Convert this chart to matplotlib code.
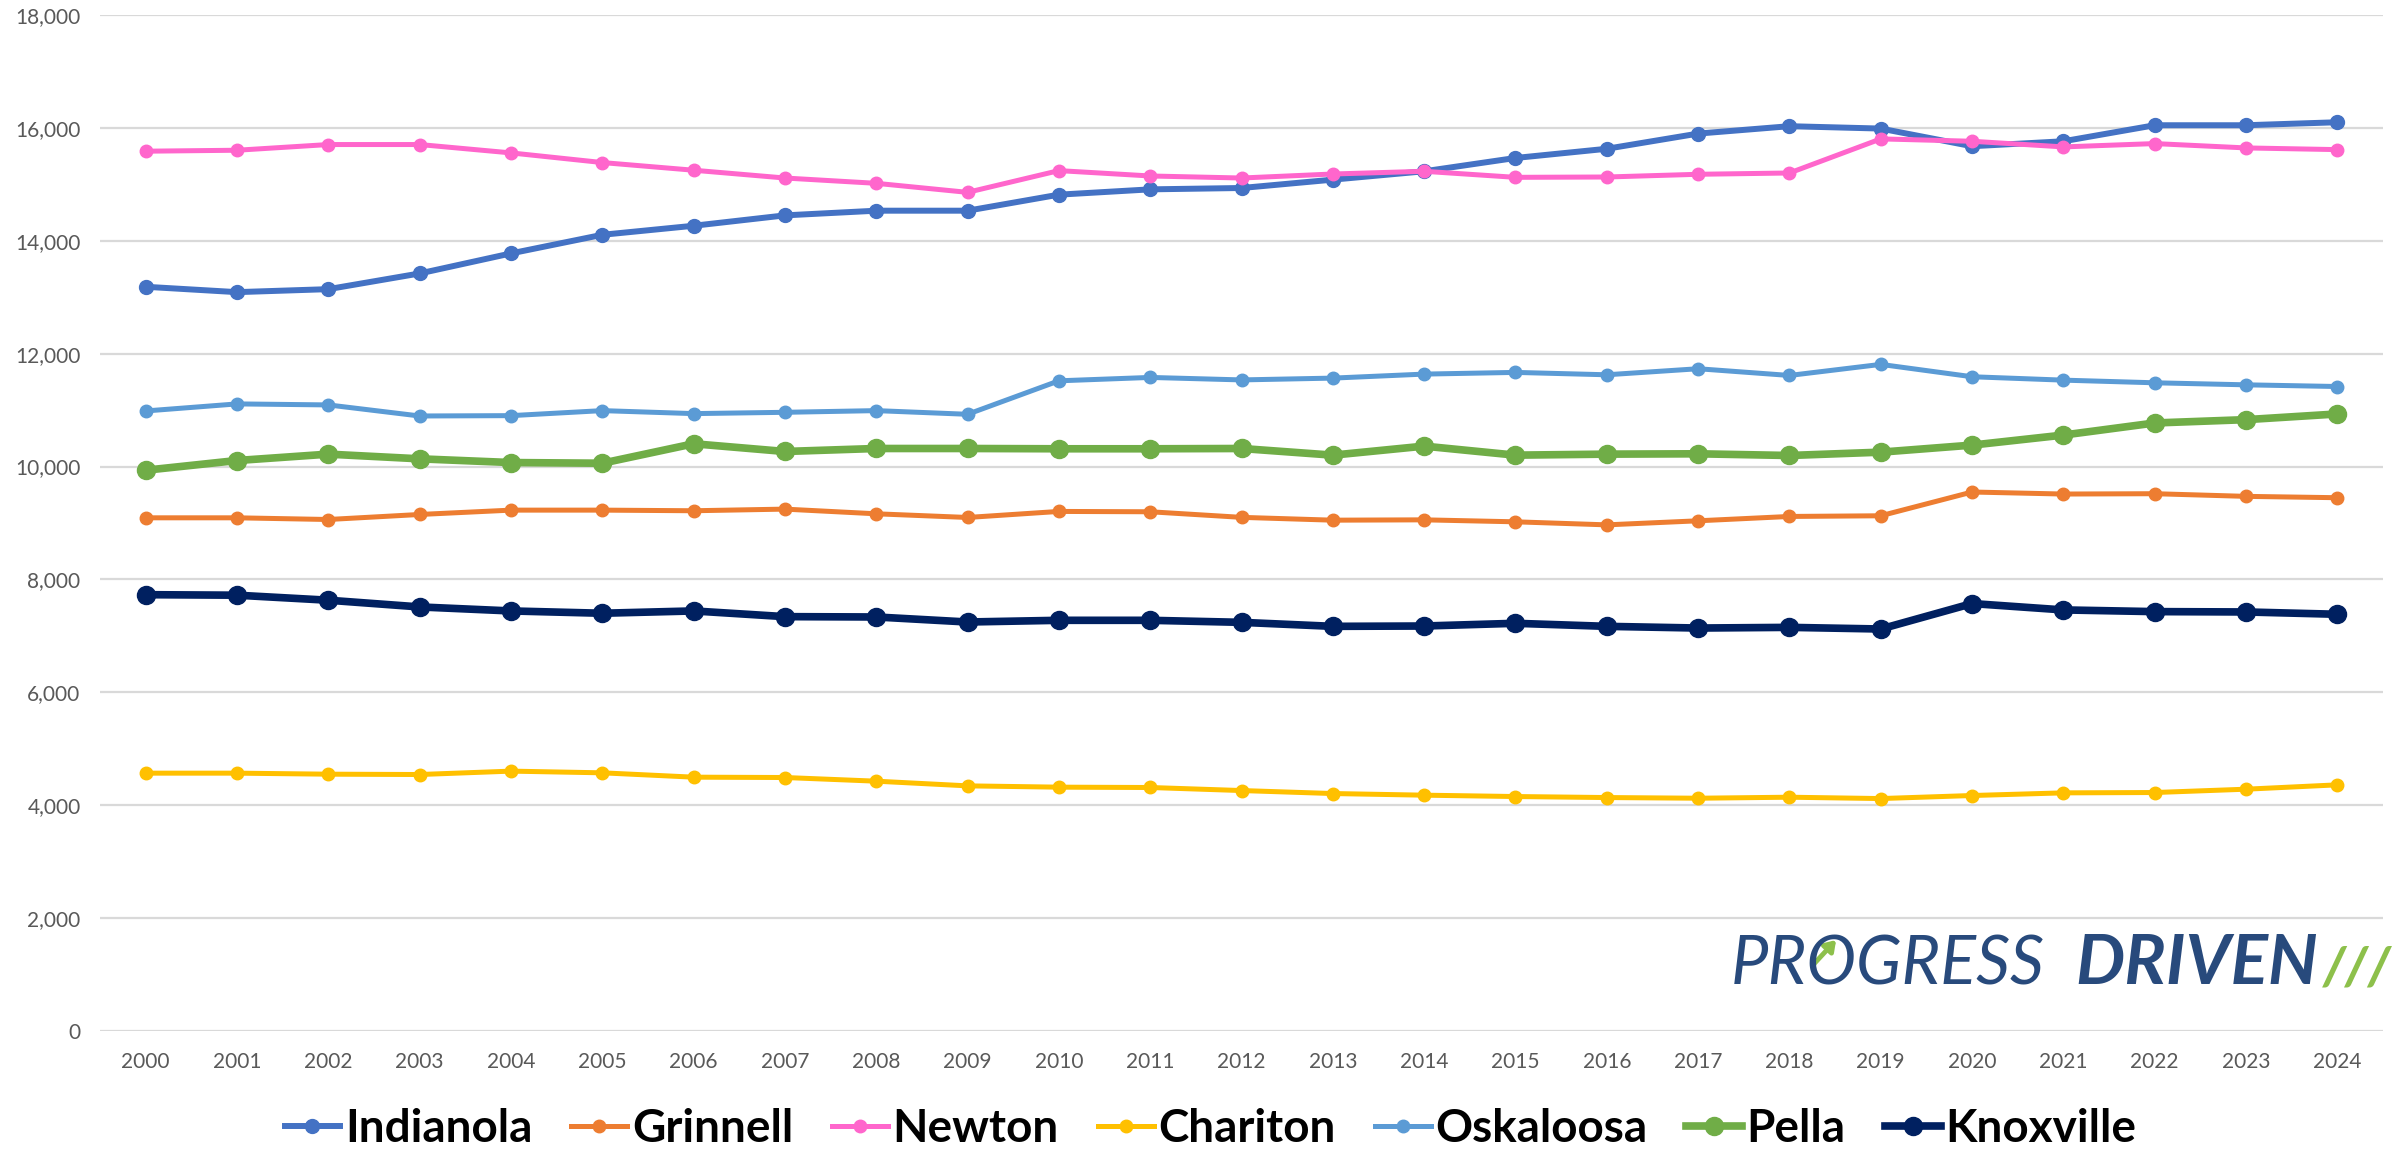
import matplotlib
matplotlib.use("Agg")
import matplotlib.pyplot as plt
from matplotlib.patches import FancyArrowPatch
from matplotlib.ticker import FuncFormatter, MultipleLocator

years = [str(y) for y in range(2000, 2025)]

indianola = [13185, 13090, 13143, 13421, 13776, 14106, 14266, 14450, 14533, 14533, 14817, 14911, 14935,
             15083, 15231, 15467, 15630, 15899, 16030, 15988, 15675, 15763, 16047, 16047, 16100]
grinnell = [9092, 9092, 9062, 9151, 9228, 9228, 9217, 9246, 9163, 9098, 9205, 9199, 9100,
            9050, 9056, 9021, 8967, 9039, 9116, 9128, 9549, 9513, 9519, 9472, 9448]
newton = [15587, 15604, 15705, 15705, 15557, 15386, 15250, 15112, 15018, 14858, 15243, 15148, 15112,
          15183, 15231, 15124, 15130, 15178, 15201, 15805, 15763, 15663, 15722, 15645, 15615]
chariton = [4568, 4568, 4550, 4544, 4604, 4574, 4497, 4491, 4426, 4343, 4320, 4314, 4260,
            4207, 4178, 4154, 4136, 4124, 4142, 4118, 4172, 4219, 4225, 4284, 4361]
oskaloosa = [10985, 11110, 11092, 10896, 10902, 10991, 10938, 10961, 10991, 10926, 11519, 11579, 11535,
             11567, 11638, 11668, 11626, 11733, 11614, 11810, 11591, 11531, 11484, 11448, 11418]
pella = [9935, 10107, 10220, 10137, 10071, 10059, 10404, 10267, 10320, 10320, 10315, 10315, 10320,
         10202, 10362, 10202, 10220, 10226, 10196, 10255, 10380, 10558, 10772, 10831, 10932]
knoxville = [7730, 7721, 7632, 7513, 7442, 7401, 7442, 7341, 7335, 7246, 7276, 7276, 7240,
             7169, 7175, 7223, 7169, 7139, 7151, 7122, 7573, 7460, 7430, 7424, 7383]

# name, values, colour, line width, marker size
series = [
    ("Indianola", indianola, "#4472C4", 4.3, 10),
    ("Grinnell", grinnell, "#ED7D31", 3.6, 9),
    ("Newton", newton, "#FF66CC", 3.6, 9),
    ("Chariton", chariton, "#FFC000", 3.6, 9),
    ("Oskaloosa", oskaloosa, "#5B9BD5", 3.6, 9),
    ("Pella", pella, "#70AD47", 5.5, 13),
    ("Knoxville", knoxville, "#002060", 5.5, 13),
]

fig = plt.figure(figsize=(23.92, 11.5), dpi=100)
ax = fig.add_axes([100 / 2392, 1 - 1031 / 1150, 2283 / 2392, 1016 / 1150])

x = range(len(years))
for name, vals, color, lw, ms in series:
    ax.plot(x, vals, color=color, lw=lw, marker="o", ms=ms, label=name,
            solid_joinstyle="round", zorder=3)

ax.set_xlim(-0.5, len(years) - 0.5)
ax.set_ylim(0, 18000)
ax.set_xticks(list(x))
ax.set_xticklabels(years)
ax.yaxis.set_major_locator(MultipleLocator(2000))
ax.yaxis.set_major_formatter(FuncFormatter(lambda v, p: f"{int(v):,}"))
ax.grid(axis="y", color="#D9D9D9", lw=1.6, zorder=0)
ax.tick_params(length=0, labelsize=15, labelcolor="#595959")
ax.tick_params(axis="y", pad=14)
ax.tick_params(axis="x", pad=15)
for lbl in ax.get_xticklabels() + ax.get_yticklabels():
    lbl.set_family(["Lato", "DejaVu Sans"])
for s in ax.spines.values():
    s.set_visible(False)

leg = fig.legend(loc="center", bbox_to_anchor=(0.506, 0.018), ncol=7, frameon=False,
                 handlelength=1.22, handletextpad=0.1, columnspacing=0.85,
                 prop={"family": ["Lato", "DejaVu Sans"], "weight": "bold", "size": 33})

# logo
navy = "#284A7C"
fig.text(0.7235, 0.1443, "PROGRESS", fontsize=48, style="italic", color=navy,
         family=["Lato", "DejaVu Sans"], va="baseline")
fig.text(0.8675, 0.1443, "DRIVEN", fontsize=50, style="italic", weight="bold", color=navy,
         family=["Lato", "DejaVu Sans"], va="baseline")
fig.text(1.0, 0.1443, "///", fontsize=38, style="italic", weight="black", color="#8DC04B",
         family=["Lato", "DejaVu Sans"], va="baseline", ha="right")
fig.patches.append(FancyArrowPatch(
    (1812 / 2392, 1 - 966 / 1150), (1838 / 2392, 1 - 938 / 1150), transform=fig.transFigure,
    arrowstyle="-|>,head_length=6,head_width=4", lw=3.5, color="#8DC04B", figure=fig))

fig.savefig("out.png", dpi=100)
